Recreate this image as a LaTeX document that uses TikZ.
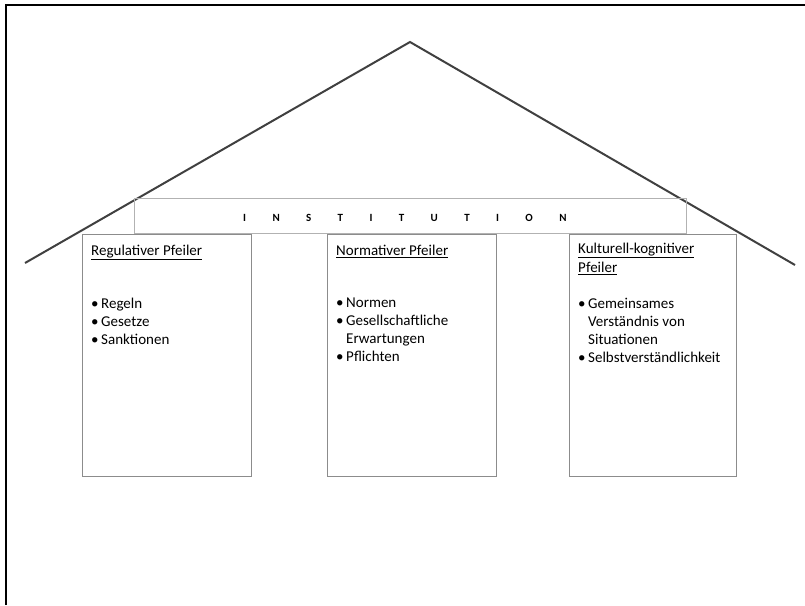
\documentclass[tikz,border=0pt]{standalone}
\usepackage{fontspec}
\setmainfont{Carlito}
\usepackage{tikz}
\usetikzlibrary{calc}

\newcommand{\pillaritem}{\makebox[10pt][l]{•}}

\begin{document}
\begin{tikzpicture}
      [
        x=1pt, y=-1pt,
        roof/.style={draw=black!75, line width=2pt},
        pillar/.style={draw=black!45, line width=1.2pt, minimum height=242pt,
          anchor=north west, inner sep=0pt},
        title/.style={anchor=north west, align=left, inner sep=0pt,
          font=\fontsize{15}{19}\selectfont},
        items/.style={anchor=north west, align=left, inner sep=0pt,
          font=\fontsize{15}{18}\selectfont}
      ]
      \useasboundingbox (0,0) rectangle (805,605);
      % frame
      \draw [line width=2pt] (6,605) -- (6,5) -- (805,5);
      % roof
      \coordinate (eaveL) at (25,263);
      \coordinate (apex) at (410,42);
      \coordinate (eaveR) at (795,265);
      \draw [roof] (eaveL) -- (apex) -- (eaveR);
      % beam
      \node [draw=black!30, line width=1pt, minimum width=552pt, minimum height=35pt,
        anchor=north west, inner sep=0pt] (beam) at (134,198) {};
      \node [anchor=west, inner sep=0pt, font=\fontsize{11}{13}\selectfont\bfseries] (beamtext)
        at (243,218) {\addfontfeature{LetterSpace=240}INSTITUTION};
      % pillars
      \node [pillar, minimum width=169pt] (regulative) at (82,234) {};
      \node [pillar, minimum width=169pt] (normative) at (327,234) {};
      \node [pillar, minimum width=167pt] (cognitive) at (569,234) {};
      % titles
      \node [title] (regtitle) at ($(regulative.north west)+(9,11)$)
        {\underline{Regulativer Pfeiler}};
      \node [title] (normtitle) at ($(normative.north west)+(9,11)$)
        {\underline{Normativer Pfeiler}};
      \node [title] (cogtitle) at ($(cognitive.north west)+(9,9)$)
        {\underline{Kulturell-kognitiver}\\\underline{Pfeiler}};
      % contents
      \node [items] (regitems) at ($(regulative.north west)+(9,64)$)
        {\pillaritem Regeln\\\pillaritem Gesetze\\\pillaritem Sanktionen};
      \node [items] (normitems) at ($(normative.north west)+(9,64)$)
        {\pillaritem Normen\\\pillaritem Gesellschaftliche\\\hspace*{10pt}Erwartungen\\\pillaritem Pflichten};
      \node [items] (cogitems) at ($(cognitive.north west)+(9,64)$)
        {\pillaritem Gemeinsames\\\hspace*{10pt}Verständnis von\\\hspace*{10pt}Situationen\\\pillaritem Selbstverständlichkeit};
\end{tikzpicture}
\end{document}
